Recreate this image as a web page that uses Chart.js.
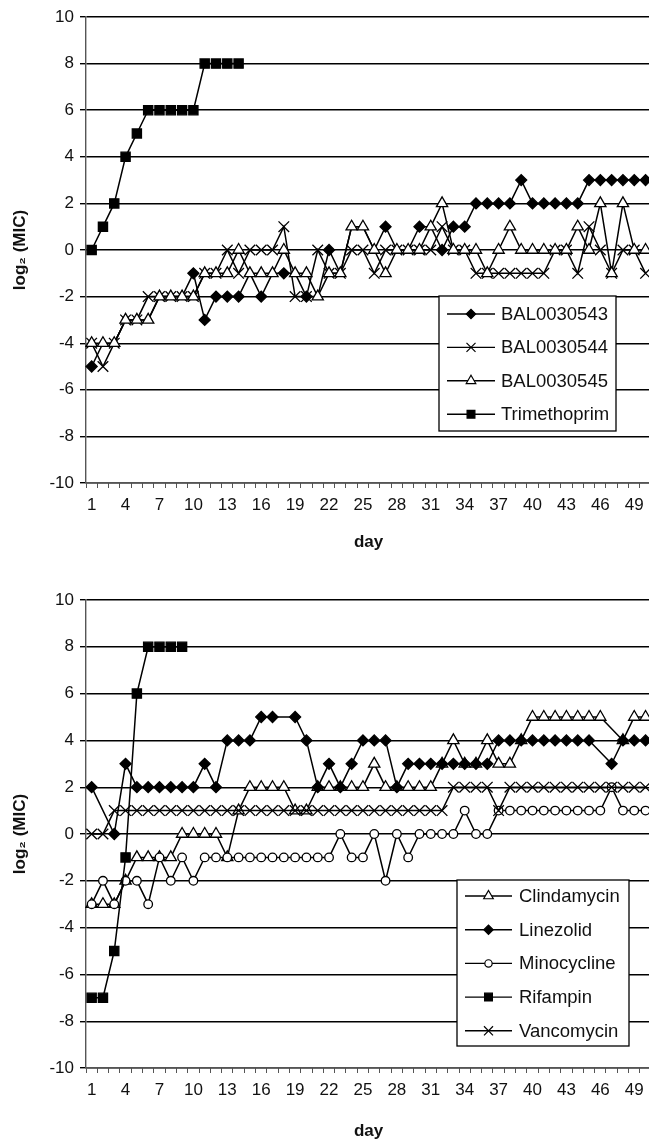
<!DOCTYPE html>
<html>
<head>
<meta charset="utf-8">
<script src="https://cdn.jsdelivr.net/npm/chart.js@4.4.1/dist/chart.umd.min.js"></script>
<style>
  html, body { margin: 0; padding: 0; background: #fff; overflow: hidden; }
  .panel { position: absolute; left: 0; width: 660px; height: 566px; }
</style>
</head>
<body>
<div class="panel" style="top:0px"><canvas id="topChart" width="660" height="566"></canvas></div>
<div class="panel" style="top:583px"><canvas id="bottomChart" width="660" height="566"></canvas></div>
<script>
// Days 1..50 on the category axis
const dayLabels = Array.from({ length: 50 }, (_, i) => String(i + 1));

// Top panel series (log2 MIC per day)
const bal0030543 = [-5, -4, -4, -3, -3, -3, -2, -2, -2, -1,
    -3, -2, -2, -2, -1, -2, -1, -1, -1, -2,
    -2, 0, -1, 1, 1, 0, 1, 0, 0, 1,
    1, 0, 1, 1, 2, 2, 2, 2, 3, 2,
    2, 2, 2, 2, 3, 3, 3, 3, 3, 3];
const bal0030544 = [-4, -5, -4, -3, -3, -2, -2, -2, -2, -2,
    -1, -1, 0, -1, 0, 0, 0, 1, -2, -2,
    0, -1, -1, 0, 0, -1, 0, 0, 0, 0,
    0, 1, 0, 0, -1, -1, -1, -1, -1, -1,
    -1, 0, 0, -1, 1, 0, -1, 0, 0, -1];
const bal0030545 = [-4, -4, -4, -3, -3, -3, -2, -2, -2, -2,
    -1, -1, -1, 0, -1, -1, -1, 0, -1, -1,
    -2, -1, -1, 1, 1, 0, -1, 0, 0, 0,
    1, 2, 0, 0, 0, -1, 0, 1, 0, 0,
    0, 0, 0, 1, 0, 2, -1, 2, 0, 0];
const trimethoprim = [0, 1, 2, 4, 5, 6, 6, 6, 6, 6, 8, 8, 8, 8];

// Bottom panel series
const clindamycin = [-3, -3, -3, -2, -1, -1, -1, -1, 0, 0,
    0, 0, -1, 1, 2, 2, 2, 2, 1, 1,
    2, 2, 2, 2, 2, 3, 2, 2, 2, 2,
    2, 3, 4, 3, 3, 4, 3, 3, 4, 5,
    5, 5, 5, 5, 5, 5, null, 4, 5, 5];
const linezolid = [2, null, 0, 3, 2, 2, 2, 2, 2, 2,
    3, 2, 4, 4, 4, 5, 5, null, 5, 4,
    2, 3, 2, 3, 4, 4, 4, 2, 3, 3,
    3, 3, 3, 3, 3, 3, 4, 4, 4, 4,
    4, 4, 4, 4, 4, null, 3, 4, 4, 4];
const minocycline = [-3, -2, -3, -2, -2, -3, -1, -2, -1, -2,
    -1, -1, -1, -1, -1, -1, -1, -1, -1, -1,
    -1, -1, 0, -1, -1, 0, -2, 0, -1, 0,
    0, 0, 0, 1, 0, 0, 1, 1, 1, 1,
    1, 1, 1, 1, 1, 1, 2, 1, 1, 1];
const rifampin = [-7, -7, -5, -1, 6, 8, 8, 8, 8];
const vancomycin = [0, 0, 1, 1, 1, 1, 1, 1, 1, 1,
    1, 1, 1, 1, 1, 1, 1, 1, 1, 1,
    1, 1, 1, 1, 1, 1, 1, 1, 1, 1,
    1, 1, 2, 2, 2, 2, 1, 2, 2, 2,
    2, 2, 2, 2, 2, 2, 2, 2, 2, 2];

// Marker looks (Excel style)
const markers = {
    diamond: { pointStyle: 'rectRot', size: 5.5, fill: '#000' },
    cross: { pointStyle: 'crossRot', size: 7.5, fill: '#000' },
    triangle: { pointStyle: 'triangle', size: 6.5, fill: '#fff' },
    square: { pointStyle: 'rect', size: 6.5, fill: '#000' },
    circle: { pointStyle: 'circle', size: 4.3, fill: '#fff' }
};

Chart.defaults.font.family = '"Liberation Sans", Arial, sans-serif';
Chart.defaults.font.size = 17;
Chart.defaults.color = '#111';

// A black diamond sitting under a white triangle of a later series is hidden, as in the original
function markerRadius(ctx) {
    const sets = ctx.chart.data.datasets;
    const me = sets[ctx.datasetIndex];
    const v = me.data[ctx.dataIndex];
    if (me.pointStyle === 'rectRot' && v !== null && v !== undefined) {
        for (const other of sets) {
            if (other.order < me.order && other.pointStyle === 'triangle' && other.data[ctx.dataIndex] === v) {
                return 0;
            }
        }
    }
    return me.markerSize;
}

function series(label, data, marker, order) {
    const m = markers[marker];
    return {
        label: label,
        data: data,
        borderColor: '#000',
        borderWidth: 1.5,
        pointStyle: m.pointStyle,
        markerSize: m.size,
        pointRadius: markerRadius,
        pointBackgroundColor: m.fill,
        pointBorderColor: '#000',
        pointBorderWidth: 1.3,
        pointHoverRadius: 0,
        spanGaps: true,
        order: order
    };
}

// Legend drawn as a boxed key inside the plot
const boxLegend = {
    id: 'boxLegend',
    afterDraw(chart, args, opts) {
        const ctx = chart.ctx;
        ctx.save();
        ctx.fillStyle = '#fff';
        ctx.strokeStyle = '#000';
        ctx.lineWidth = 1.3;
        ctx.fillRect(opts.x, opts.y, opts.w, opts.h);
        ctx.strokeRect(opts.x, opts.y, opts.w, opts.h);
        chart.data.datasets.forEach((ds, i) => {
            const y = opts.y + opts.first + i * opts.gap;
            ctx.strokeStyle = '#000';
            ctx.lineWidth = 1.4;
            ctx.beginPath();
            ctx.moveTo(opts.lineX1, y);
            ctx.lineTo(opts.lineX2, y);
            ctx.stroke();
            ctx.fillStyle = ds.pointBackgroundColor;
            ctx.lineWidth = 1.2;
            Chart.helpers.drawPoint(ctx, {
                pointStyle: ds.pointStyle,
                radius: ds.markerSize * 0.85,
                borderWidth: 1.2,
                rotation: 0
            }, (opts.lineX1 + opts.lineX2) / 2, y);
            ctx.fillStyle = '#111';
            ctx.font = '18.5px "Liberation Sans", Arial, sans-serif';
            ctx.textBaseline = 'middle';
            ctx.textAlign = 'left';
            ctx.fillText(ds.label, opts.textX, y + 1);
        });
        ctx.restore();
    }
};

function buildOptions(layout, legend) {
    return {
        responsive: false,
        animation: false,
        devicePixelRatio: 1,
        layout: { padding: { top: layout.top, right: 8, bottom: 0, left: 0 } },
        plugins: {
            legend: { display: false },
            tooltip: { enabled: false },
            boxLegend: legend
        },
        scales: {
            x: {
                type: 'category',
                offset: true,
                afterFit: (scale) => { scale.height = layout.xHeight; },
                grid: { offset: true, drawOnChartArea: false, tickLength: 5, color: '#555', lineWidth: 1 },
                border: { color: '#555', width: 1.4 },
                ticks: {
                    autoSkip: false,
                    maxRotation: 0,
                    padding: 7,
                    callback: (v, i) => (i % 3 === 0 ? dayLabels[i] : '')
                },
                title: {
                    display: true,
                    text: 'day',
                    font: { weight: 'bold', size: 17 },
                    padding: { top: 0, bottom: layout.titlePad }
                }
            },
            y: {
                min: -10,
                max: 10,
                afterFit: (scale) => { scale.width = 86; },
                ticks: { stepSize: 2, padding: 6 },
                grid: { color: '#000', lineWidth: 1.4, tickLength: 6 },
                border: { color: '#555', width: 1.4 },
                title: {
                    display: true,
                    text: 'log\u2082 (MIC)',
                    font: { weight: 'bold', size: 17 },
                    padding: { top: 10, bottom: 0 }
                }
            }
        }
    };
}

document.addEventListener('DOMContentLoaded', () => {
    new Chart(document.getElementById('topChart'), {
        type: 'line',
        data: {
            labels: dayLabels,
            datasets: [
                series('BAL0030543', bal0030543, 'diamond', 4),
                series('BAL0030544', bal0030544, 'cross', 3),
                series('BAL0030545', bal0030545, 'triangle', 2),
                series('Trimethoprim', trimethoprim, 'square', 1)
            ]
        },
        options: buildOptions(
            { top: 17, xHeight: 83, titlePad: 13 },
            { x: 439, y: 296, w: 177, h: 135, first: 18, gap: 33.4, lineX1: 447, lineX2: 495, textX: 501 }
        ),
        plugins: [boxLegend]
    });

    new Chart(document.getElementById('bottomChart'), {
        type: 'line',
        data: {
            labels: dayLabels,
            datasets: [
                series('Clindamycin', clindamycin, 'triangle', 5),
                series('Linezolid', linezolid, 'diamond', 4),
                series('Minocycline', minocycline, 'circle', 3),
                series('Rifampin', rifampin, 'square', 2),
                series('Vancomycin', vancomycin, 'cross', 1)
            ]
        },
        options: buildOptions(
            { top: 17, xHeight: 81, titlePad: 7 },
            { x: 457, y: 297, w: 172, h: 166, first: 16, gap: 33.7, lineX1: 465, lineX2: 512, textX: 519 }
        ),
        plugins: [boxLegend]
    });
});
</script>
</body>
</html>
